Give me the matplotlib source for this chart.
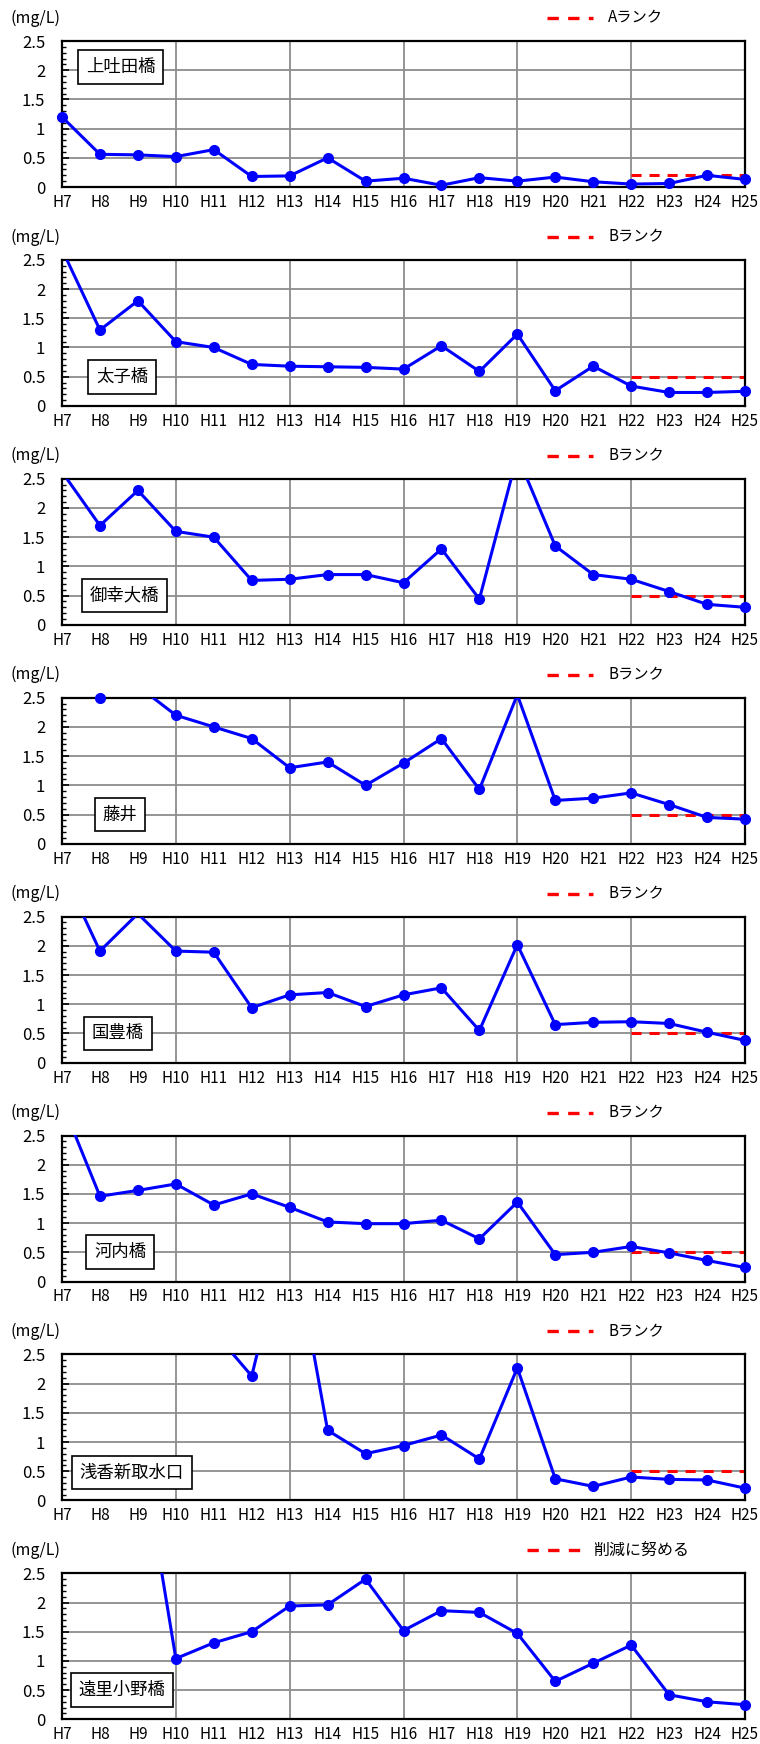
import numpy as np
import matplotlib
matplotlib.use('Agg')
import matplotlib.pyplot as plt
from matplotlib.ticker import MultipleLocator, FormatStrFormatter

# Japanese font first, DejaVu as fallback
plt.rcParams['font.family'] = ['Noto Sans CJK JP', 'DejaVu Sans']

nan = np.nan

# fiscal years H7 .. H25
years = ['H%d' % y for y in range(7, 26)]

# values in mg/L, one list per station (values above 2.5 run off the chart)
kamihaida = [1.2, 0.56, 0.55, 0.52, 0.64, 0.18, 0.19, 0.5, 0.1, 0.15,
             0.03, 0.16, 0.1, 0.17, 0.09, 0.05, 0.06, 0.2, 0.13]
taishi = [2.68, 1.3, 1.8, 1.1, 1.0, 0.71, 0.68, 0.67, 0.66, 0.63,
          1.03, 0.59, 1.23, 0.26, 0.68, 0.34, 0.23, 0.23, 0.25]
miyuki = [2.62, 1.7, 2.3, 1.6, 1.5, 0.76, 0.78, 0.86, 0.86, 0.72,
          1.3, 0.44, 2.9, 1.35, 0.86, 0.78, 0.57, 0.35, 0.3]
fujii = [nan, 2.5, 2.7, 2.2, 2.0, 1.8, 1.3, 1.4, 1.0, 1.38,
         1.8, 0.93, 2.55, 0.74, 0.78, 0.87, 0.67, 0.45, 0.42]
kokuho = [3.3, 1.91, 2.55, 1.91, 1.89, 0.94, 1.16, 1.2, 0.96, 1.16,
          1.28, 0.55, 2.02, 0.65, 0.69, 0.7, 0.67, 0.52, 0.38]
kawachi = [3.06, 1.46, 1.56, 1.67, 1.31, 1.5, 1.27, 1.02, 0.99, 0.99,
           1.05, 0.73, 1.36, 0.46, 0.5, 0.6, 0.49, 0.36, 0.24]
asaka = [nan, nan, nan, nan, 2.89, 2.13, 4.8, 1.2, 0.8, 0.94,
         1.12, 0.71, 2.27, 0.37, 0.24, 0.4, 0.36, 0.35, 0.21]
sorionobashi = [nan, nan, 5.0, 1.04, 1.31, 1.5, 1.94, 1.96, 2.4, 1.52,
                1.86, 1.83, 1.47, 0.65, 0.96, 1.27, 0.42, 0.3, 0.25]

stations = ['上吐田橋', '太子橋', '御幸大橋', '藤井', '国豊橋', '河内橋',
            '浅香新取水口', '遠里小野橋']
series = [kamihaida, taishi, miyuki, fujii, kokuho, kawachi, asaka, sorionobashi]

# target level shown from H22 onwards
rank_labels = ['Aランク', 'Bランク', 'Bランク', 'Bランク', 'Bランク', 'Bランク',
               'Bランク', '削減に努める']
rank_values = [0.2, 0.5, 0.5, 0.5, 0.5, 0.5, 0.5, None]
rank_start = 'H22'

# where the station name box sits (axes fraction)
box_pos = [(0.086, 0.82), (0.088, 0.20), (0.091, 0.20), (0.085, 0.20),
           (0.082, 0.20), (0.085, 0.20), (0.102, 0.19), (0.088, 0.20)]

fig = plt.figure(figsize=(7.6, 17.44), dpi=100)
W, H = 760.0, 1744.0
left, right = 62, 745
top0, pitch, ax_h = 41, 218.9, 146

x = np.arange(len(years))
blue = '#0000ff'
red = '#ff0000'
grid_c = '#8c8c8c'

for i in range(len(stations)):
    top = top0 + pitch * i
    ax = fig.add_axes([left / W, 1 - (top + ax_h) / H, (right - left) / W, ax_h / H])
    v = np.array(series[i], dtype=float)

    ax.set_xlim(0, len(years) - 1)
    ax.set_ylim(0, 2.5)

    # grid
    for yy in [0.5, 1.0, 1.5, 2.0]:
        ax.axhline(yy, color=grid_c, lw=1.3, zorder=1)
    for xx in [3, 6, 9, 12, 15]:
        ax.axvline(xx, color=grid_c, lw=1.3, zorder=1)

    # reference level
    if rank_values[i] is not None:
        s = years.index(rank_start)
        ax.plot(x[s:], [rank_values[i]] * len(x[s:]), color=red, lw=2.2,
                dashes=(3.3, 2.6), zorder=2)

    # measured values: line clipped, markers only where inside
    ax.plot(x, v, color=blue, lw=2.2, zorder=3)
    inside = v <= 2.5
    ax.plot(x[inside], v[inside], 'o', color=blue, ms=7, clip_on=False, zorder=4)

    # ticks
    ax.set_xticks(x)
    ax.set_xticklabels(years)
    ax.set_xticks([3, 6, 9, 12, 15], minor=True)
    ax.tick_params(axis='x', which='major', length=0, pad=5, labelsize=11)
    ax.tick_params(axis='x', which='minor', length=4, width=1.2, direction='out')
    ax.yaxis.set_major_locator(MultipleLocator(0.5))
    ax.yaxis.set_minor_locator(MultipleLocator(0.1))
    ax.yaxis.set_major_formatter(FormatStrFormatter('%g'))
    ax.tick_params(axis='y', which='major', length=5, width=1.2, direction='in',
                   pad=12, labelsize=12)
    ax.tick_params(axis='y', which='minor', length=3, width=1, direction='in')
    for sp in ax.spines.values():
        sp.set_linewidth(1.6)
        sp.set_color('black')

    # unit and legend above the plot area
    ax.text(-0.076, 1.157, '(mg/L)', transform=ax.transAxes, ha='left',
            va='center', fontsize=11.5)
    if rank_values[i] is not None:
        ax.plot([0.71, 0.777], [1.157, 1.157], transform=ax.transAxes,
                color=red, lw=2.4, dashes=(3.4, 2.8), clip_on=False)
        ax.text(0.80, 1.157, rank_labels[i], transform=ax.transAxes,
                ha='left', va='center', fontsize=11)
    else:
        ax.plot([0.681, 0.772], [1.157, 1.157], transform=ax.transAxes,
                color=red, lw=2.4, dashes=(3.4, 2.8), clip_on=False)
        ax.text(0.777, 1.157, rank_labels[i], transform=ax.transAxes,
                ha='left', va='center', fontsize=11.5)

    # station name box
    bx, by = box_pos[i]
    ax.text(bx, by, stations[i], transform=ax.transAxes, ha='center',
            va='center', fontsize=12.5, zorder=5,
            bbox=dict(boxstyle='square,pad=0.45', fc='white', ec='black', lw=1.2))

plt.savefig('out.png', dpi=100)
